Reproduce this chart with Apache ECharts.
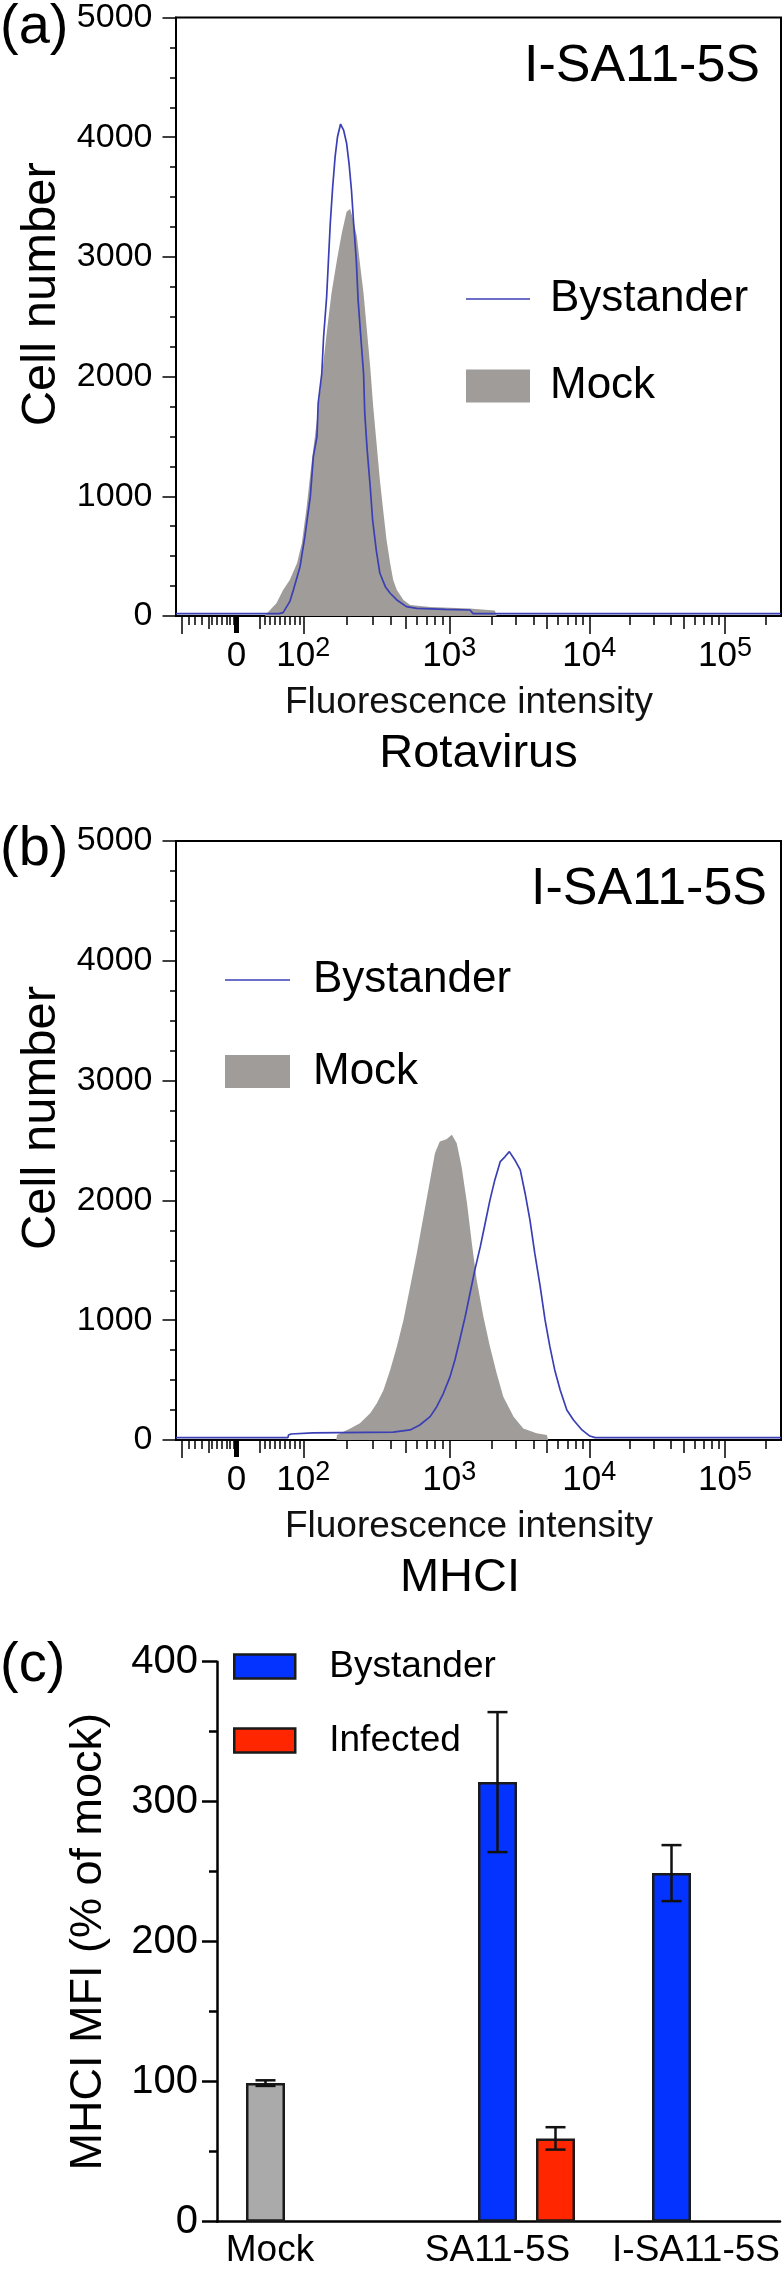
<!DOCTYPE html>
<html>
<head>
<meta charset="utf-8">
<script src="https://cdn.jsdelivr.net/npm/echarts@6/dist/echarts.min.js"></script>
<style>
  html, body { margin: 0; padding: 0; background: #fff; }
  #chart { width: 782px; height: 2270px; }
</style>
</head>
<body>
<div id="chart"></div>
<script>
// ---------------- DATA ----------------
// Histogram x axis: biexponential (logicle) display, in display channels 0..1000
const xTickLabels = ['0', '10|2', '10|3', '10|4', '10|5'];
const xTickChannels = [100, 210.4, 451.7, 683.1, 907.4];
const negTickChannels = [9.4, 20.4, 31.4, 42.5, 59, 67.3, 75.5, 83.8, 89.3, 94.7];
const lowTickChannels = [146.9, 155.1, 163.2, 171.3, 179.4, 187.6, 195.7, 203.8];
const midLinTickChannels = [53.4, 138.8];

// (a) Rotavirus staining — [channel, cell number]
const rotaMock = [[147,0],[150,20],[166,106],[177,217],[188,300],[200,440],[208,607],[216,913],[224,1276],[233,1637],[241,1999],[249,2362],[257,2696],[266,2974],[274,3197],[282,3378],[288,3400],[293,3308],[299,3169],[304,2946],[310,2696],[315,2417],[321,2083],[326,1749],[332,1414],[337,1136],[343,858],[348,635],[354,440],[359,300],[365,217],[376,134],[387,92],[420,75],[485,62],[487,50],[527,45],[530,0]];
const rotaBystander = [[0,20],[170,20],[177,28],[188,120],[194,217],[205,412],[213,663],[222,997],[227,1331],[233,1498],[235,1777],[241,2027],[244,2333],[249,2667],[252,2974],[255,3281],[259,3586],[263,3837],[267,4004],[272,4110],[277,4060],[282,3949],[286,3782],[290,3559],[294,3252],[298,2974],[301,2640],[305,2362],[310,2027],[312,1693],[316,1387],[321,1080],[325,802],[331,551],[337,357],[346,245],[354,190],[365,134],[381,78],[398,64],[445,55],[486,50],[491,20],[1000,20]];

// (b) MHCI staining — [channel, cell number]
const mhcMock = [[265,0],[266,42],[288,97],[304,139],[321,223],[332,306],[343,417],[354,585],[365,779],[376,1002],[387,1280],[398,1559],[409,1865],[420,2171],[428,2394],[436,2491],[447,2511],[456,2547],[464,2477],[472,2282],[481,1976],[489,1642],[497,1336],[508,1030],[519,779],[530,557],[541,362],[558,195],[574,97],[596,56],[613,42],[615,0]];
const mhcBystander = [[0,20],[185,20],[186,42],[190,50],[226,60],[359,65],[387,84],[403,125],[420,195],[431,278],[442,390],[453,529],[461,668],[469,835],[478,1030],[486,1225],[494,1420],[503,1614],[511,1809],[519,2004],[527,2171],[536,2324],[544,2366],[551,2407],[560,2338],[569,2255],[577,2060],[585,1837],[593,1559],[602,1280],[610,1002],[618,779],[626,585],[635,418],[646,251],[657,167],[671,84],[684,33],[693,20],[1000,20]];

// (c) MHCI MFI (% of mock)
const groups = ['Mock', 'SA11-5S', 'I-SA11-5S'];
const mockMFI = [99, null, null];
const mockErr = [2, null, null];
const bystanderMFI = [null, 314, 249];
const bystanderErr = [null, 50, 20];
const infectedMFI = [null, 59.5, null];
const infectedErr = [null, 8, null];

// ---------------- STYLE ----------------
const SANS = "'Liberation Sans', Arial, Helvetica, sans-serif";
function fontInstalled(name) {
  const ctx = document.createElement('canvas').getContext('2d');
  const probe = '4000 MWabc 10';
  ctx.font = '40px monospace';
  const a = ctx.measureText(probe).width;
  ctx.font = "40px '" + name + "', monospace";
  return Math.abs(ctx.measureText(probe).width - a) > 0.5;
}
const HAS_NARROW = fontInstalled('Liberation Sans Narrow');
const NARROW = HAS_NARROW ? "'Liberation Sans Narrow', 'Liberation Sans', sans-serif" : SANS;
// sizes chosen so label widths match the reference in either font
const Y_TICK_SIZE = HAS_NARROW ? 40 : 34;
const X_BASE_SIZE = HAS_NARROW ? 42 : 35;
const X_SUP_SIZE = HAS_NARROW ? 31 : 27;

const BLUE_LINE = '#3a3fb4';
const GRAY_FILL = '#9f9c99';
const BAR_W = 39, BAR_GAP = 19, CAP = 10;

// tick positions derived from the decade anchors (log spacing inside each decade)
const decadeMinor = [], decadeMid = [];
for (let d = 1; d < xTickChannels.length; d++) {
  const a = xTickChannels[d];
  const w = d + 1 < xTickChannels.length ? xTickChannels[d + 1] - a : xTickChannels[d] - xTickChannels[d - 1];
  for (let k = 2; k <= 9; k++) {
    const c = a + Math.log10(k) * w;
    if (c > 1000) continue;
    (k === 5 ? decadeMid : decadeMinor).push(c);
  }
}
const longTicks = [negTickChannels[0]].concat(xTickChannels.slice(1));
const minorTicks = negTickChannels.slice(1).concat(lowTickChannels, decadeMinor);
const midTicks = midLinTickChannels.concat(decadeMid);

function xLabelFormatter(v) {
  let best = 0;
  xTickChannels.forEach((c, i) => { if (Math.abs(c - v) < Math.abs(xTickChannels[best] - v)) best = i; });
  const parts = xTickLabels[best].split('|');
  return parts.length > 1 ? '{b|' + parts[0] + '}{s|' + parts[1] + '}' : '{b|' + parts[0] + '}';
}
const xRich = {
  b: { fontFamily: NARROW, fontSize: X_BASE_SIZE, lineHeight: 42, color: '#000' },
  s: { fontFamily: NARROW, fontSize: X_SUP_SIZE, lineHeight: 20, verticalAlign: 'top', color: '#000' }
};

function histXAxes(gridIndex, markerName, markerShift) {
  const common = { type: 'value', gridIndex, min: 0, max: 1000, position: 'bottom', splitLine: { show: false } };
  const tickLine = (w) => ({ color: '#000', width: w });
  return [
    Object.assign({}, common, {
      axisLine: { show: true, lineStyle: { color: '#000', width: 2 } },
      axisTick: { show: true, customValues: longTicks, length: 18, lineStyle: tickLine(1.5) },
      axisLabel: { show: true, customValues: xTickChannels, formatter: xLabelFormatter, rich: xRich, margin: 19 },
      name: 'Fluorescence intensity', nameLocation: 'middle', nameGap: 68,
      nameTextStyle: { fontFamily: SANS, fontSize: 37, color: '#111', padding: [0, 19, 0, 0] }
    }),
    Object.assign({}, common, {
      axisLine: { show: false },
      axisTick: { show: true, customValues: minorTicks, length: 9, lineStyle: tickLine(1.5) },
      axisLabel: { show: false },
      name: markerName, nameLocation: 'middle', nameGap: 115,
      nameTextStyle: { fontFamily: SANS, fontSize: 47, color: '#000', padding: [0, markerShift, 0, 0] }
    }),
    Object.assign({}, common, {
      axisLine: { show: false },
      axisTick: { show: true, customValues: midTicks, length: 13, lineStyle: tickLine(1.5) },
      axisLabel: { show: false }
    }),
    Object.assign({}, common, {
      axisLine: { show: false },
      axisTick: { show: true, customValues: [xTickChannels[0]], length: 17, lineStyle: tickLine(5) },
      axisLabel: { show: false }
    })
  ];
}

function histYAxis(gridIndex) {
  return {
    type: 'value', gridIndex, min: 0, max: 5000, interval: 1000,
    axisLine: { show: true, lineStyle: { color: '#000', width: 2 } },
    axisTick: { show: true, length: 13.5, lineStyle: { color: '#000', width: 1.5 } },
    minorTick: { show: true, splitNumber: 4, length: 6, lineStyle: { color: '#000', width: 1.5 } },
    splitLine: { show: false }, minorSplitLine: { show: false },
    axisLabel: { fontFamily: NARROW, fontSize: Y_TICK_SIZE, color: '#000', margin: 23.5, formatter: (v) => String(v) },
    name: 'Cell number', nameLocation: 'middle', nameGap: 96, nameRotate: 90,
    nameTextStyle: { fontFamily: SANS, fontSize: 49, color: '#000', padding: [0, 0, 0, 45] }
  };
}

function histSeries(x0, y, mock, bys, tag) {
  return [
    { type: 'line', name: 'Mock #' + tag, xAxisIndex: x0, yAxisIndex: y, data: mock, symbol: 'none',
      itemStyle: { color: GRAY_FILL }, lineStyle: { width: 0, color: GRAY_FILL },
      areaStyle: { color: GRAY_FILL, opacity: 1 }, z: 2, silent: true },
    { type: 'line', name: 'Bystander #' + tag, xAxisIndex: x0, yAxisIndex: y, data: bys, symbol: 'none',
      itemStyle: { color: BLUE_LINE }, lineStyle: { width: 1.7, color: BLUE_LINE }, z: 3, silent: true }
  ];
}

function errorSeries(slot, values, errs) {
  const data = [];
  values.forEach((v, i) => { if (v != null) data.push([i, v - errs[i], v + errs[i]]); });
  return {
    type: 'custom', xAxisIndex: 9, yAxisIndex: 3, z: 10, silent: true, data,
    renderItem(params, api) {
      const lo = api.coord([api.value(0), api.value(1)]);
      const hi = api.coord([api.value(0), api.value(2)]);
      const x = lo[0] + (slot - 1) * (BAR_W + BAR_GAP);
      const style = { stroke: '#111', lineWidth: 2.5 };
      return { type: 'group', children: [
        { type: 'line', shape: { x1: x, y1: lo[1], x2: x, y2: hi[1] }, style },
        { type: 'line', shape: { x1: x - CAP, y1: lo[1], x2: x + CAP, y2: lo[1] }, style },
        { type: 'line', shape: { x1: x - CAP, y1: hi[1], x2: x + CAP, y2: hi[1] }, style }
      ] };
    }
  };
}

const LINE_ICON = 'path://M0,0H40V1H0Z';
const stripTag = (n) => n.split(' #')[0];
const legendText = (size, pad) => ({ fontFamily: SANS, fontSize: size, color: '#000', padding: [0, 0, 0, pad] });
const catKey = { 'Mock': 'm', 'SA11-5S': 's', 'I-SA11-5S': 'i' };
const gapPct = (BAR_GAP / BAR_W * 100).toFixed(2) + '%';
const panelTitle = (text, pos) => Object.assign({ text, padding: 0,
  textStyle: { fontFamily: SANS, fontSize: 56, fontWeight: 'normal', color: '#000' } }, pos);

const option = {
  animation: false,
  backgroundColor: '#fff',
  title: [
    panelTitle('(a)', { left: 0, top: 0 }),
    panelTitle('(b)', { left: 0, top: 822 }),
    panelTitle('(c)', { left: 0, top: 1638 }),
    { text: 'I-SA11-5S', right: 22, top: 41, padding: 0, textStyle: { fontFamily: SANS, fontSize: 52, fontWeight: 'normal', color: '#000' } },
    { text: 'I-SA11-5S', right: 15, top: 864, padding: 0, textStyle: { fontFamily: SANS, fontSize: 52, fontWeight: 'normal', color: '#000' } }
  ],
  legend: [
    { orient: 'vertical', left: 466, top: 277, itemWidth: 64, itemHeight: 33, itemGap: 43, padding: 0,
      selectedMode: false, formatter: stripTag, textStyle: legendText(44, 15),
      data: [ { name: 'Bystander #a', icon: LINE_ICON, itemStyle: { color: BLUE_LINE, borderWidth: 0 } },
              { name: 'Mock #a', icon: 'rect', itemStyle: { color: GRAY_FILL, borderWidth: 0 } } ] },
    { orient: 'vertical', left: 225, top: 958, itemWidth: 65, itemHeight: 33, itemGap: 47.5, padding: 0,
      selectedMode: false, formatter: stripTag, textStyle: legendText(44, 18),
      data: [ { name: 'Bystander #b', icon: LINE_ICON, itemStyle: { color: BLUE_LINE, borderWidth: 0 } },
              { name: 'Mock #b', icon: 'rect', itemStyle: { color: GRAY_FILL, borderWidth: 0 } } ] },
    { orient: 'vertical', left: 233, top: 1648, itemWidth: 61, itemHeight: 24, itemGap: 37, padding: 0,
      selectedMode: false, formatter: stripTag, textStyle: legendText(37, 29),
      data: [ { name: 'Bystander #c', icon: 'rect', itemStyle: { color: '#0433ff', borderColor: '#1a1a1a', borderWidth: 2.5 } },
              { name: 'Infected #c', icon: 'rect', itemStyle: { color: '#ff2600', borderColor: '#1a1a1a', borderWidth: 2.5 } } ] }
  ],
  grid: [
    { left: 176, top: 17.5, width: 605, height: 598.5, show: true, borderColor: '#000', borderWidth: 2, outerBoundsMode: 'none' },
    { left: 176, top: 841, width: 605, height: 599, show: true, borderColor: '#000', borderWidth: 2, outerBoundsMode: 'none' },
    { left: 217, top: 1661.7, width: 563, height: 560, outerBoundsMode: 'none' },
    { left: 236.5, top: 1661.7, width: 522, height: 560, outerBoundsMode: 'none' }
  ],
  xAxis: [].concat(
    histXAxes(0, 'Rotavirus', 0),
    histXAxes(1, 'MHCI', 37),
    [
      { type: 'value', gridIndex: 2, min: 0, max: 1, axisLine: { show: true, lineStyle: { color: '#000', width: 2.5 } },
        axisTick: { show: false }, axisLabel: { show: false }, splitLine: { show: false } },
      { type: 'category', gridIndex: 3, data: groups, axisLine: { show: false }, axisTick: { show: false },
        axisLabel: { interval: 0, margin: 11, formatter: (v) => '{' + catKey[v] + '|' + v + '}',
          rich: {
            m: { fontFamily: SANS, fontSize: 37, color: '#000', padding: [0, 107, 0, 0] },
            s: { fontFamily: SANS, fontSize: 37, color: '#000' },
            i: { fontFamily: SANS, fontSize: 37, color: '#000', padding: [0, 0, 0, 49] }
          } } }
    ]
  ),
  yAxis: [
    histYAxis(0),
    histYAxis(1),
    { type: 'value', gridIndex: 2, min: 0, max: 400, interval: 100,
      axisLine: { show: true, lineStyle: { color: '#000', width: 2.5 } },
      axisTick: { show: true, length: 15, lineStyle: { color: '#000', width: 2.5 } },
      minorTick: { show: true, splitNumber: 2, length: 8, lineStyle: { color: '#000', width: 2.5 } },
      splitLine: { show: false }, minorSplitLine: { show: false },
      axisLabel: { fontFamily: SANS, fontSize: 40, color: '#000', margin: 19 },
      name: 'MHCI MFI (% of mock)', nameLocation: 'middle', nameGap: 106, nameRotate: 90,
      nameTextStyle: { fontFamily: SANS, fontSize: 45, color: '#000' } },
    { type: 'value', gridIndex: 3, min: 0, max: 400, show: false }
  ],
  series: [].concat(
    histSeries(0, 0, rotaMock, rotaBystander, 'a'),
    histSeries(4, 1, mhcMock, mhcBystander, 'b'),
    [
      { type: 'bar', name: 'Mock #c', xAxisIndex: 9, yAxisIndex: 3, data: mockMFI, barWidth: BAR_W, barGap: gapPct,
        itemStyle: { color: '#aaaaaa', borderColor: '#1a1a1a', borderWidth: 2.5 }, z: 2, silent: true },
      { type: 'bar', name: 'Bystander #c', xAxisIndex: 9, yAxisIndex: 3, data: bystanderMFI, barWidth: BAR_W, barGap: gapPct,
        itemStyle: { color: '#0433ff', borderColor: '#1a1a1a', borderWidth: 2.5 }, z: 2, silent: true },
      { type: 'bar', name: 'Infected #c', xAxisIndex: 9, yAxisIndex: 3, data: infectedMFI, barWidth: BAR_W, barGap: gapPct,
        itemStyle: { color: '#ff2600', borderColor: '#1a1a1a', borderWidth: 2.5 }, z: 2, silent: true },
      errorSeries(0, mockMFI, mockErr),
      errorSeries(1, bystanderMFI, bystanderErr),
      errorSeries(2, infectedMFI, infectedErr)
    ]
  )
};

const chart = echarts.init(document.getElementById('chart'), null, { renderer: 'canvas' });
chart.setOption(option);
</script>
</body>
</html>
